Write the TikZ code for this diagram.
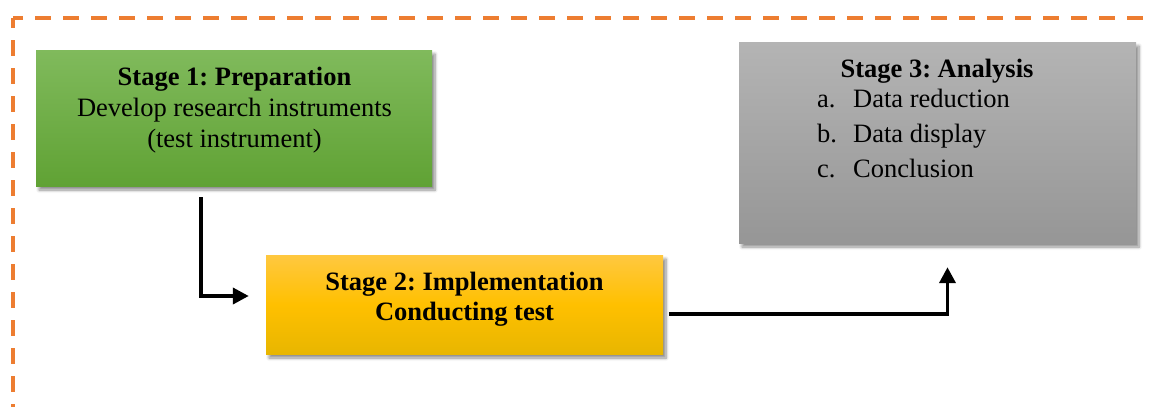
\documentclass[tikz,border=0pt]{standalone}
\usepackage{fontspec}
\setmainfont{Liberation Serif}
\frenchspacing
\usetikzlibrary{arrows.meta,shadows,shadows.blur,calc}
\definecolor{borderorange}{RGB}{237,125,49}
\definecolor{greentop}{RGB}{128,186,92}
\definecolor{greenbot}{RGB}{96,162,52}
\definecolor{yeltop}{RGB}{255,200,64}
\definecolor{yelmid}{RGB}{255,192,0}
\definecolor{yelbot}{RGB}{232,182,0}
\definecolor{graytop}{RGB}{180,180,180}
\definecolor{graybot}{RGB}{150,150,150}
\tikzset{
  border/.style={draw=borderorange,line width=3.6pt,dash pattern=on 16pt off 12pt,dash phase=6pt},
  stagebox/.style={rectangle,inner sep=0pt,
    blur shadow={shadow xshift=3pt,shadow yshift=-4pt,shadow blur steps=6,shadow blur radius=3pt,shadow opacity=45}},
  txt/.style={inner sep=0pt,anchor=base,font=\fontsize{26.5}{31}\selectfont},
  txtl/.style={txt,anchor=base west},
  arr/.style={draw=black,line width=3.8pt,-{Triangle[length=16pt,width=16pt]}}
}
\begin{document}
\begin{tikzpicture}[x=1pt,y=-1pt]
\useasboundingbox (0,0) rectangle (1152,407);
% dashed frame
\draw[border] (13,18) -- (1160,18);
\draw[border] (13,18) -- (13,415);
% boxes
\node[stagebox,minimum width=396pt,minimum height=136pt,top color=greentop,bottom color=greenbot] (s1) at (234,118) {};
\node[stagebox,minimum width=397pt,minimum height=99pt,top color=yeltop,bottom color=yelbot,middle color=yelmid] (s2) at (464.5,304.5) {};
\node[stagebox,minimum width=397pt,minimum height=201pt,top color=graytop,bottom color=graybot] (s3) at (937.5,142.5) {};
% texts stage 1
\node[txt] (t1a) at (234.5,85) {\textbf{Stage 1: Preparation}};
\node[txt] (t1b) at (234.5,116) {Develop research instruments};
\node[txt] (t1c) at (234.5,147) {(test instrument)};
% texts stage 2
\node[txt] (t2a) at (464.5,290) {\textbf{Stage 2: Implementation}};
\node[txt] (t2b) at (464.5,320) {\textbf{Conducting test}};
% texts stage 3
\node[txt] (t3a) at (937,77) {\textbf{Stage 3: Analysis}};
\node[txtl] (la) at (817,107) {a.};
\node[txtl] (ia) at (853,107) {Data reduction};
\node[txtl] (lb) at (817,142) {b.};
\node[txtl] (ib) at (853,142) {Data display};
\node[txtl] (lc) at (817,177) {c.};
\node[txtl] (ic) at (853,177) {Conclusion};
% connectors
\draw[arr] ([xshift=-33pt,yshift=-11pt]s1.south) |- ([xshift=-17pt,yshift=8.5pt]s2.west);
\draw[arr] ([xshift=6pt,yshift=-9.5pt]s2.east) -| ([xshift=10pt,yshift=-24pt]s3.south);
\end{tikzpicture}
\end{document}
